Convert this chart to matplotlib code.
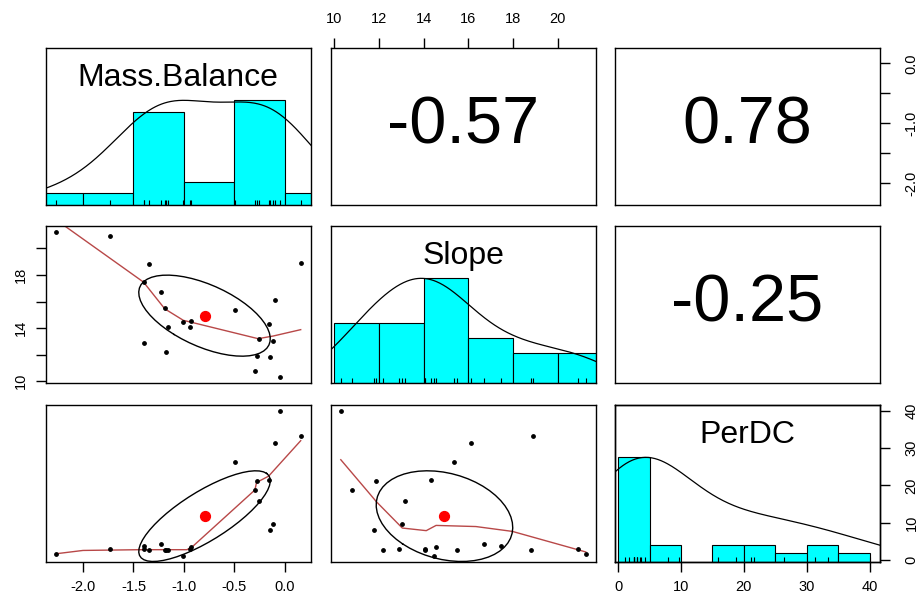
"""psych::pairs.panels style scatterplot matrix: Mass.Balance, Slope, PerDC."""
import matplotlib
matplotlib.use("Agg")
import matplotlib.pyplot as plt
import matplotlib.transforms as mtrans
import numpy as np

plt.rcParams["font.family"] = ["Liberation Sans", "DejaVu Sans"]
plt.rcParams["axes.unicode_minus"] = False

mass_balance = np.array([-2.27, -1.736, -0.05, 0.158, -0.099, -0.494, -0.158, -0.28,
                         -0.296, -0.254, -0.115, -0.142, -1.347, -1.225, -1.397, -1.19,
                         -1.005, -0.93, -0.94, -1.16, -1.393, -1.18])
slope = np.array([21.25, 20.9, 10.3, 18.9, 16.1, 15.38, 14.33, 11.87,
                  10.8, 13.19, 13.05, 11.79, 18.8, 16.7, 17.46, 15.48,
                  14.48, 14.55, 14.08, 14.08, 12.9, 12.18])
perdc = np.array([1.7, 3.0, 40.0, 33.3, 31.3, 26.4, 21.6, 21.1,
                  18.75, 15.8, 9.65, 7.97, 2.6, 4.2, 3.7, 2.6,
                  1.06, 3.4, 3.0, 2.6, 3.0, 2.6])

names = ["Mass.Balance", "Slope", "PerDC"]
cor_labels = {(0, 1): -0.57, (0, 2): 0.78, (1, 2): -0.25}

# histogram breaks (R "pretty" breaks)
mb_breaks = [-2.5, -2.0, -1.5, -1.0, -0.5, 0.0, 0.5]
slope_breaks = [10, 12, 14, 16, 18, 20, 22]
perdc_breaks = [0, 5, 10, 15, 20, 25, 30, 35, 40]
# density bandwidth multipliers, tuned to the curves in the picture
bw_adjust = [1.22, 1.0, 1.15]

# lowess smooths
smooth_mb_slope_x = [-2.27, -1.40, -1.19, -1.005, -0.906, -0.264, -0.115, 0.158]
smooth_mb_slope_y = [22.17, 17.46, 15.45, 14.58, 14.40, 13.2, 13.4, 13.88]
smooth_mb_perdc_x = [-2.27, -2.0, -1.43, -0.97, -0.92, -0.296, -0.28, -0.16, 0.158]
smooth_mb_perdc_y = [1.7, 2.6, 2.8, 2.8, 3.5, 18.8, 20.8, 22.5, 32.0]
smooth_slope_perdc_x = [10.3, 11.9, 13.05, 14.12, 14.56, 16.34, 17.97, 21.25]
smooth_slope_perdc_y = [26.9, 15.6, 8.6, 7.9, 9.3, 9.0, 7.7, 2.2]

data = [mass_balance, slope, perdc]
breaks = [mb_breaks, slope_breaks, perdc_breaks]
smooths = {(1, 0): (smooth_mb_slope_x, smooth_mb_slope_y),
           (2, 0): (smooth_mb_perdc_x, smooth_mb_perdc_y),
           (2, 1): (smooth_slope_perdc_x, smooth_slope_perdc_y)}

W, H = 921, 604
col_left = [46, 331, 615]
row_top = [48, 226, 405]
pw, ph = 264.5, 157
SMOOTH_COL = "#b84848"


def rng(v):
    d = v.max() - v.min()
    return v.min() - 0.04 * d, v.max() + 0.04 * d


def bw_nrd(v):
    q1, q3 = np.percentile(v, [25, 75])
    return 1.06 * min(np.std(v, ddof=1), (q3 - q1) / 1.34) * len(v) ** -0.2


def ellipse(xm, ym, xs, ys, r, seg=51):
    a = np.linspace(0, 2 * np.pi, seg + 1)
    circ = np.column_stack([np.cos(a), np.sin(a)])
    th = np.sign(r) / np.sqrt(2)
    shape = np.diag([np.sqrt(1 + r), np.sqrt(1 - r)]) @ np.array([[th, th], [-th, th]])
    e = circ @ shape
    return e[:, 0] * xs + xm, e[:, 1] * ys + ym


fig = plt.figure(figsize=(W / 100, H / 100), dpi=100)
axes = {}
for i in range(3):
    for j in range(3):
        ax = fig.add_axes([col_left[j] / W, 1 - (row_top[i] + ph) / H, pw / W, ph / H])
        for s in ax.spines.values():
            s.set_linewidth(1.0)
        ax.set_xticks([])
        ax.set_yticks([])
        ax.tick_params(direction="out", length=7, width=1, labelsize=10.5)
        axes[i, j] = ax

for i in range(3):
    for j in range(3):
        ax = axes[i, j]
        if i == j:
            v = data[i]
            counts, edges = np.histogram(v, bins=breaks[i])
            ax.bar(edges[:-1], counts / counts.max(), width=np.diff(edges), align="edge",
                   color="cyan", edgecolor="black", linewidth=0.8)
            bw = bw_nrd(v) * bw_adjust[i]
            gx = np.linspace(v.min() - 3 * bw, v.max() + 3 * bw, 512)
            gy = np.exp(-0.5 * ((gx[:, None] - v[None, :]) / bw) ** 2).sum(axis=1)
            ax.plot(gx, gy / gy.max(), color="black", lw=0.9)
            trans = mtrans.blended_transform_factory(ax.transData, ax.transAxes)
            ax.vlines(v, 0, 0.03, transform=trans, color="black", lw=0.8)
            ax.set_xlim(*rng(v))
            ax.set_ylim(0, 1.5)
            ax.text(0.5, 0.76, names[i], transform=ax.transAxes, ha="center",
                    va="baseline", fontsize=23)
        elif i < j:
            ax.set_xlim(*rng(data[j]))
            ax.set_ylim(*rng(data[i]))
            ax.text(0.5, 0.5, f"{cor_labels[i, j]:.2f}", transform=ax.transAxes,
                    ha="center", va="center", fontsize=48)
        else:
            x, y = data[j], data[i]
            ax.scatter(x, y, s=6, color="black", zorder=3)
            sx, sy = smooths[i, j]
            ax.plot(sx, sy, color=SMOOTH_COL, lw=1.0, zorder=2)
            r = cor_labels[j, i]
            ex, ey = ellipse(x.mean(), y.mean(), x.std(ddof=1), y.std(ddof=1), r)
            ax.plot(ex, ey, color="black", lw=1.0, zorder=2)
            ax.scatter([x.mean()], [y.mean()], s=50, color="red", zorder=4)
            ax.set_xlim(*rng(x))
            ax.set_ylim(*rng(y))

# outer axes, R pairs style
ax = axes[0, 1]
ax.xaxis.tick_top()
ax.set_xticks([10, 12, 14, 16, 18, 20])
ax.tick_params(axis="x", pad=9)

ax = axes[0, 2]
ax.yaxis.tick_right()
ax.set_yticks([-2.0, -1.5, -1.0, -0.5, 0.0])
ax.set_yticklabels(["-2.0", "", "-1.0", "", "0.0"], rotation=90, va="center")
ax.tick_params(axis="y", pad=11)

ax = axes[1, 0]
ax.set_yticks([10, 12, 14, 16, 18, 20])
ax.set_yticklabels(["10", "", "14", "", "18", ""], rotation=90, va="center")
ax.tick_params(axis="y", pad=6)

ax = axes[2, 0]
ax.set_xticks([-2.0, -1.5, -1.0, -0.5, 0.0])
ax.set_xticklabels(["-2.0", "-1.5", "-1.0", "-0.5", "0.0"])
ax.tick_params(axis="x", pad=6)

ax = axes[2, 2]
ax.set_xticks([0, 10, 20, 30, 40])
ax.tick_params(axis="x", pad=6)
ax2 = ax.twinx()
ax2.set_ylim(*rng(perdc))
ax2.set_yticks([0, 10, 20, 30, 40])
ax2.set_yticklabels(["0", "10", "20", "30", "40"], rotation=90, va="center")
ax2.tick_params(axis="y", direction="out", length=7, width=1, labelsize=10.5, pad=11)
for s in ax2.spines.values():
    s.set_linewidth(1.0)

fig.savefig("out.png", dpi=100)
